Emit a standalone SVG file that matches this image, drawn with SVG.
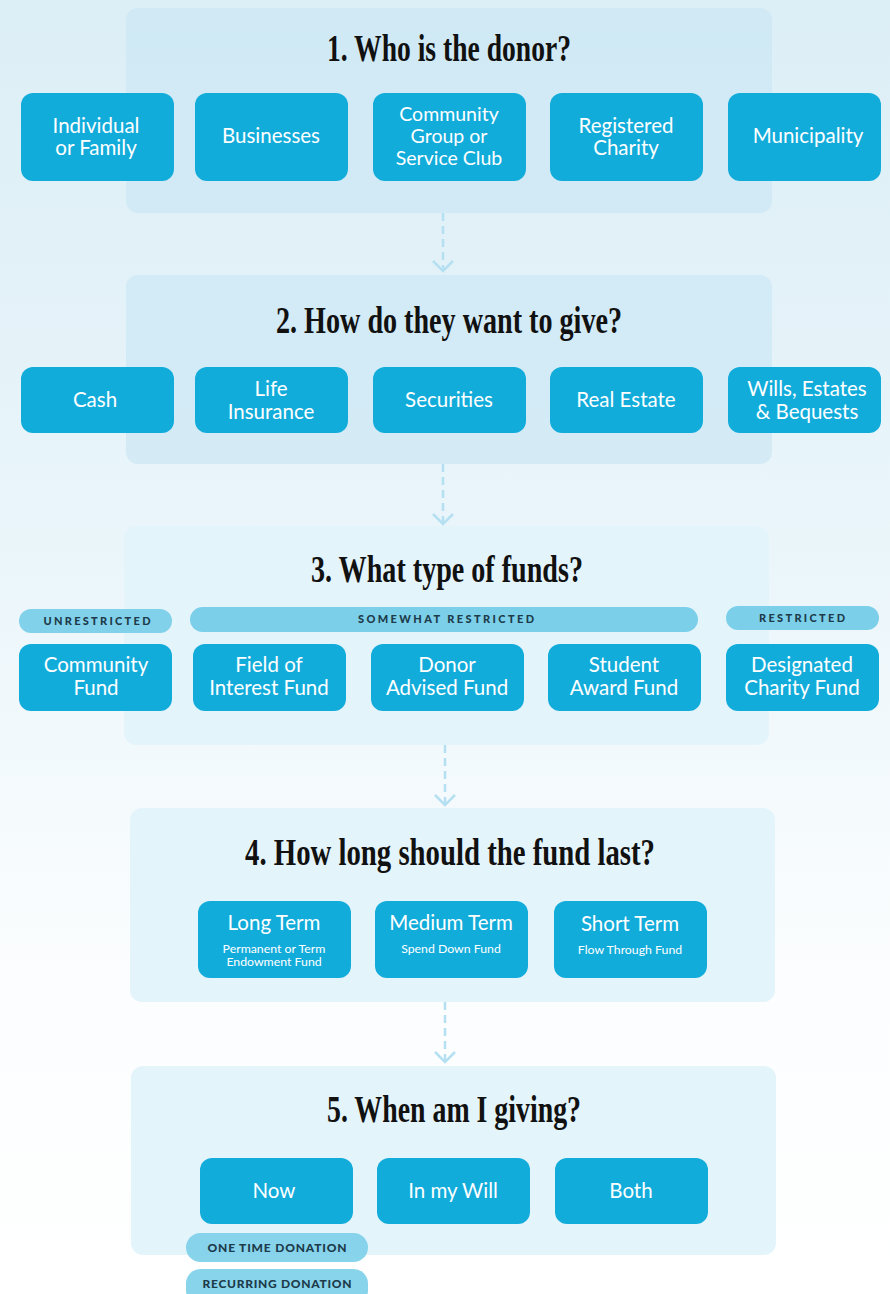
<svg xmlns="http://www.w3.org/2000/svg" width="890" height="1294" viewBox="0 0 890 1294">
<defs>
<linearGradient id="bg" x1="0" y1="0" x2="0" y2="1">
<stop offset="0" stop-color="#dceef6"/>
<stop offset="0.4" stop-color="#e9f5fa"/>
<stop offset="0.75" stop-color="#fbfdfe"/>
<stop offset="1" stop-color="#ffffff"/>
</linearGradient>
<marker id="chev" markerWidth="14" markerHeight="22" refX="12" refY="11" orient="auto" markerUnits="userSpaceOnUse" viewBox="0 0 14 22">
<path d="M2,1 L12,11 L2,21" fill="none" stroke="#b5e0f1" stroke-width="2.5"/>
</marker>
<style>
.panelA{fill:#c9e7f4;fill-opacity:0.65}
.panelB{fill:#e4f4fb}
.node{fill:#12acdb}
.lbl{font-family:Lato,"Open Sans",sans-serif;font-size:20.5px;fill:#ffffff;text-anchor:middle}
.lbl3{font-family:Lato,"Open Sans",sans-serif;font-size:19.5px;fill:#ffffff;text-anchor:middle}
.sub{font-family:Lato,"Open Sans",sans-serif;font-size:12.3px;fill:#ffffff;text-anchor:middle}
.title{font-family:"Liberation Serif",serif;font-size:38px;font-weight:bold;fill:#111111;text-anchor:middle}
.pill{fill:#7bcfe9}
.ptxt{font-family:Lato,"Open Sans",sans-serif;font-size:11px;font-weight:900;fill:#1d3b4a;text-anchor:middle}
.conn{stroke:#b5e0f1;stroke-width:2.5;stroke-dasharray:8 5;fill:none}
</style>
</defs>
<rect width="890" height="1294" fill="url(#bg)"/>

<g id="section1">
<rect class="panelA" x="126" y="8" width="646" height="205" rx="12"/>
<text class="title" x="449" y="61" textLength="244" lengthAdjust="spacingAndGlyphs">1. Who is the donor?</text>
</g>
<g id="n-individual"><rect class="node" x="21" y="93" width="153" height="88" rx="12"/><text class="lbl" x="96" y="133">Individual</text><text class="lbl" x="96" y="155">or Family</text></g>
<g id="n-businesses"><rect class="node" x="195" y="93" width="153" height="88" rx="12"/><text class="lbl" x="271" y="143">Businesses</text></g>
<g id="n-community"><rect class="node" x="373" y="93" width="153" height="88" rx="12"/><text class="lbl3" x="449" y="121">Community</text><text class="lbl3" x="449" y="143">Group or</text><text class="lbl3" x="449" y="165">Service Club</text></g>
<g id="n-charity"><rect class="node" x="550" y="93" width="153" height="88" rx="12"/><text class="lbl" x="626" y="133">Registered</text><text class="lbl" x="626" y="155">Charity</text></g>
<g id="n-municipality"><rect class="node" x="728" y="93" width="153" height="88" rx="12"/><text class="lbl" x="808" y="143">Municipality</text></g>

<g id="section2">
<rect class="panelA" x="126" y="275" width="646" height="189" rx="12"/>
<text class="title" x="449" y="333" textLength="346" lengthAdjust="spacingAndGlyphs">2. How do they want to give?</text>
</g>
<g id="n-cash"><rect class="node" x="21" y="367" width="153" height="66" rx="12"/><text class="lbl" x="95" y="407">Cash</text></g>
<g id="n-life"><rect class="node" x="195" y="367" width="153" height="66" rx="12"/><text class="lbl" x="271" y="396">Life</text><text class="lbl" x="271" y="419">Insurance</text></g>
<g id="n-securities"><rect class="node" x="373" y="367" width="153" height="66" rx="12"/><text class="lbl" x="449" y="407">Securities</text></g>
<g id="n-realestate"><rect class="node" x="550" y="367" width="153" height="66" rx="12"/><text class="lbl" x="626" y="407">Real Estate</text></g>
<g id="n-wills"><rect class="node" x="728" y="367" width="153" height="66" rx="12"/><text class="lbl" x="807" y="396">Wills, Estates</text><text class="lbl" x="807" y="419">&amp; Bequests</text></g>

<g id="section3">
<rect class="panelB" x="124" y="526" width="645" height="219" rx="12"/>
<text class="title" x="447" y="582" textLength="272" lengthAdjust="spacingAndGlyphs">3. What type of funds?</text>
</g>
<g id="p-unrestricted"><rect class="pill" x="19" y="609" width="153" height="24" rx="12" fill-opacity="0.95"/><text class="ptxt" x="97" y="625" textLength="107">UNRESTRICTED</text></g>
<g id="p-somewhat"><rect class="pill" x="190" y="607" width="508" height="25" rx="12.5"/><text class="ptxt" x="446" y="623" textLength="176">SOMEWHAT RESTRICTED</text></g>
<g id="p-restricted"><rect class="pill" x="726" y="606" width="153" height="24" rx="12"/><text class="ptxt" x="802" y="622" textLength="86">RESTRICTED</text></g>
<g id="n-communityfund"><rect class="node" x="19" y="644" width="153" height="67" rx="12"/><text class="lbl" x="96" y="672">Community</text><text class="lbl" x="96" y="695">Fund</text></g>
<g id="n-fieldofinterest"><rect class="node" x="193" y="644" width="153" height="67" rx="12"/><text class="lbl" x="269" y="672">Field of</text><text class="lbl" x="269" y="695">Interest Fund</text></g>
<g id="n-donoradvised"><rect class="node" x="371" y="644" width="153" height="67" rx="12"/><text class="lbl" x="447" y="672">Donor</text><text class="lbl" x="447" y="695">Advised Fund</text></g>
<g id="n-studentaward"><rect class="node" x="548" y="644" width="153" height="67" rx="12"/><text class="lbl" x="624" y="672">Student</text><text class="lbl" x="624" y="695">Award Fund</text></g>
<g id="n-designated"><rect class="node" x="726" y="644" width="153" height="67" rx="12"/><text class="lbl" x="802" y="672">Designated</text><text class="lbl" x="802" y="695">Charity Fund</text></g>

<g id="section4">
<rect class="panelB" x="130" y="808" width="645" height="194" rx="12"/>
<text class="title" x="450" y="865" textLength="410" lengthAdjust="spacingAndGlyphs">4. How long should the fund last?</text>
</g>
<g id="n-longterm"><rect class="node" x="198" y="901" width="153" height="77" rx="12"/><text class="lbl" x="274" y="930">Long Term</text><text class="sub" x="274" y="953">Permanent or Term</text><text class="sub" x="274" y="966">Endowment Fund</text></g>
<g id="n-mediumterm"><rect class="node" x="375" y="901" width="153" height="77" rx="12"/><text class="lbl" x="451" y="930">Medium Term</text><text class="sub" x="451" y="953">Spend Down Fund</text></g>
<g id="n-shortterm"><rect class="node" x="554" y="901" width="153" height="77" rx="12"/><text class="lbl" x="630" y="931">Short Term</text><text class="sub" x="630" y="954">Flow Through Fund</text></g>

<g id="section5">
<rect class="panelB" x="131" y="1066" width="645" height="189" rx="12"/>
<text class="title" x="454" y="1122" textLength="254" lengthAdjust="spacingAndGlyphs">5. When am I giving?</text>
</g>
<g id="n-now"><rect class="node" x="200" y="1158" width="153" height="66" rx="12"/><text class="lbl" x="274" y="1198">Now</text></g>
<g id="n-inmywill"><rect class="node" x="377" y="1158" width="153" height="66" rx="12"/><text class="lbl" x="453" y="1198">In my Will</text></g>
<g id="n-both"><rect class="node" x="555" y="1158" width="153" height="66" rx="12"/><text class="lbl" x="631" y="1198">Both</text></g>
<g id="p-onetime"><rect class="pill" x="186" y="1233" width="182" height="29" rx="14.5" fill-opacity="0.9"/><text class="ptxt" x="277" y="1252" textLength="139" style="font-size:12px">ONE TIME DONATION</text></g>
<g id="p-recurring"><rect class="pill" x="186" y="1269" width="182" height="36" rx="14.5" fill-opacity="0.9"/><text class="ptxt" x="277" y="1288" textLength="149" style="font-size:12px">RECURRING DONATION</text></g>

<g id="connectors">
<line class="conn" x1="443" y1="213" x2="443" y2="271" marker-end="url(#chev)"/>
<line class="conn" x1="443" y1="464" x2="443" y2="524" marker-end="url(#chev)"/>
<line class="conn" x1="445" y1="745" x2="445" y2="805" marker-end="url(#chev)"/>
<line class="conn" x1="445" y1="1002" x2="445" y2="1062" marker-end="url(#chev)"/>
</g>
</svg>
